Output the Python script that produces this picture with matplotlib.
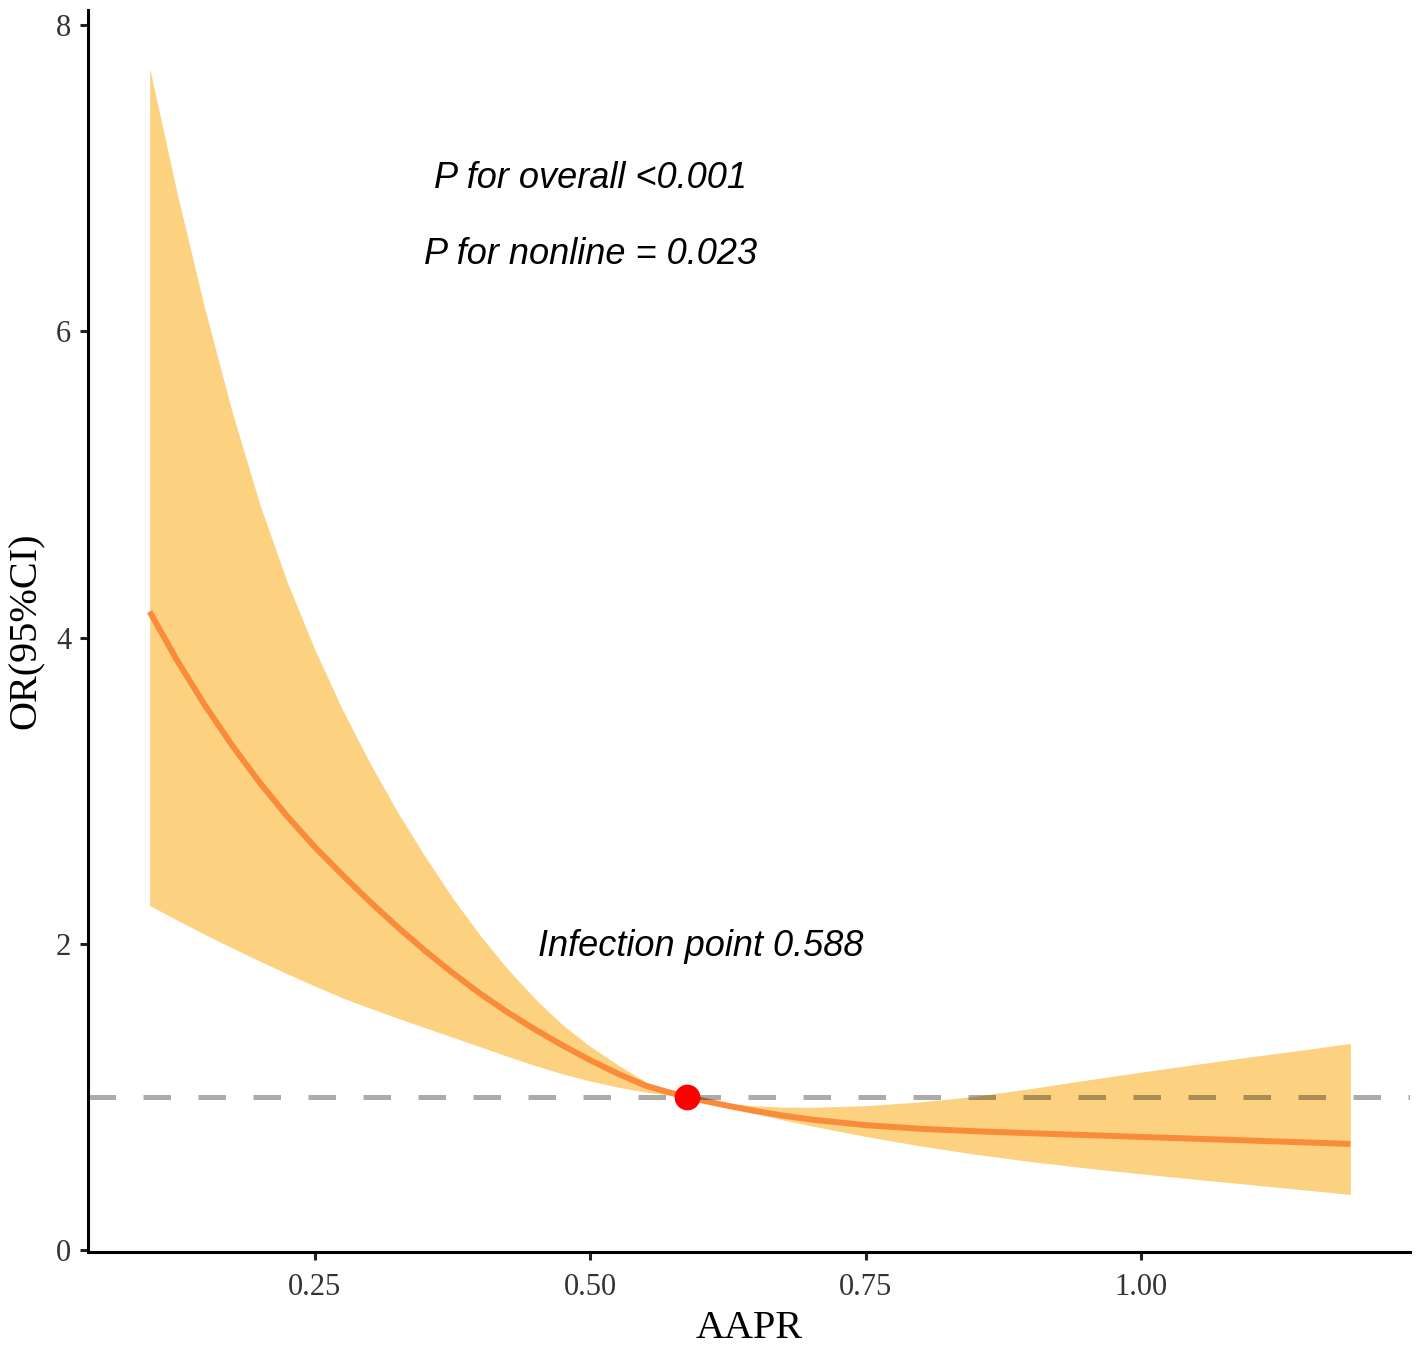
import matplotlib
matplotlib.use("Agg")
import matplotlib.pyplot as plt

# Data
aapr = [0.100, 0.125, 0.150, 0.175, 0.200, 0.225, 0.250, 0.275, 0.300, 0.325,
        0.350, 0.375, 0.400, 0.425, 0.450, 0.475, 0.500, 0.525, 0.550, 0.570,
        0.588, 0.600, 0.625, 0.650, 0.675, 0.700, 0.750, 0.800, 0.850, 0.900,
        0.950, 1.000, 1.050, 1.100, 1.150, 1.190]
or_est = [4.17, 3.85, 3.56, 3.295, 3.052, 2.832, 2.632, 2.45, 2.275, 2.11,
          1.955, 1.81, 1.675, 1.552, 1.44, 1.336, 1.24, 1.152, 1.074, 1.033,
          1.00, 0.98, 0.942, 0.908, 0.878, 0.853, 0.816, 0.792, 0.776, 0.763,
          0.751, 0.739, 0.727, 0.715, 0.703, 0.693]
or_upper = [7.72, 6.90, 6.15, 5.47, 4.87, 4.36, 3.92, 3.53, 3.18, 2.86,
            2.57, 2.30, 2.055, 1.835, 1.64, 1.47, 1.33, 1.21, 1.10, 1.035,
            1.00, 0.985, 0.958, 0.942, 0.934, 0.932, 0.943, 0.968, 1.005, 1.055,
            1.11, 1.162, 1.213, 1.263, 1.31, 1.35]
or_lower = [2.25, 2.155, 2.062, 1.973, 1.887, 1.804, 1.724, 1.647, 1.58, 1.515,
            1.452, 1.39, 1.328, 1.265, 1.205, 1.15, 1.104, 1.064, 1.032, 1.013,
            1.00, 0.978, 0.933, 0.89, 0.85, 0.812, 0.742, 0.68, 0.625, 0.578,
            0.536, 0.498, 0.462, 0.427, 0.392, 0.363]
ref_x = 0.588
ref_y = 1.0
x_ticks = [0.25, 0.50, 0.75, 1.00]
x_tick_labels = ["0.25", "0.50", "0.75", "1.00"]
y_ticks = [0, 2, 4, 6, 8]
y_tick_labels = ["0", "2", "4", "6", "8"]
text_overall = "P for overall <0.001"
text_nonline = "P for nonline = 0.023"
text_point = "Infection point 0.588"

fig = plt.figure(figsize=(14.17, 13.46), dpi=100)
ax = fig.add_axes([0.0621, 0.0698, 0.9329, 0.9228])

ax.fill_between(aapr, or_lower, or_upper, color="#FCD281", linewidth=0, zorder=1)
ax.plot(aapr, or_est, color="#F98C3A", linewidth=4.3, zorder=2,
        solid_capstyle="butt", solid_joinstyle="round")
ax.axhline(ref_y, color="black", alpha=0.33, linewidth=3.6,
           linestyle=(0, (5.5, 5.5)), zorder=3)
ax.plot([ref_x], [ref_y], "o", color="#FF0000", markersize=18.5,
        markeredgewidth=0, zorder=4)

sans = ["Liberation Sans", "DejaVu Sans"]
ax.text(0.50, 7.0, text_overall, ha="center", va="center", fontsize=26,
        style="italic", family=sans)
ax.text(0.50, 6.5, text_nonline, ha="center", va="center", fontsize=26,
        style="italic", family=sans)
ax.text(0.60, 1.98, text_point, ha="center", va="center", fontsize=26,
        style="italic", family=sans)

ax.set_xlim(0.044, 1.244)
ax.set_ylim(-0.013, 8.10)
serif = ["Liberation Serif", "DejaVu Serif"]
ax.set_xticks(x_ticks)
ax.set_xticklabels(x_tick_labels, family=serif, fontsize=22, color="#333333")
ax.set_yticks(y_ticks)
ax.set_yticklabels(y_tick_labels, family=serif, fontsize=22, color="#333333")
ax.tick_params(axis="x", width=2.2, length=6, color="#222222", pad=9)
ax.tick_params(axis="y", width=2.2, length=6, color="#222222", pad=6)
ax.set_xlabel("AAPR", family=serif, fontsize=29, labelpad=6)
ax.set_ylabel("OR(95%CI)", family=serif, fontsize=29, labelpad=8)

for side in ["top", "right"]:
    ax.spines[side].set_visible(False)
for side in ["left", "bottom"]:
    ax.spines[side].set_linewidth(2.2)
    ax.spines[side].set_color("black")

fig.savefig("out.png", dpi=100)
